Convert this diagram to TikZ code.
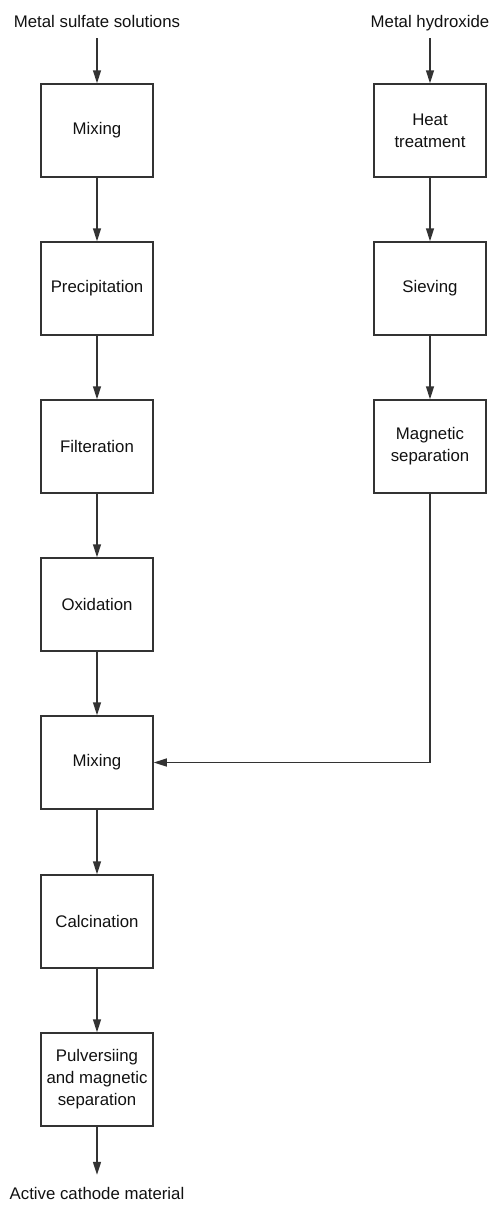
\documentclass[tikz,border=0pt]{standalone}
\usepackage{fontspec}
\setmainfont{Liberation Sans}
\usetikzlibrary{arrows.meta}
\definecolor{linegray}{HTML}{333333}
\definecolor{textgray}{HTML}{111111}
\tikzset{
  x=1pt, y=-1pt,
  stepbox/.style={draw=linegray, line width=1.5pt, minimum width=112pt,
    minimum height=93pt, inner sep=0pt, align=center, text=textgray,
    font=\fontsize{16.8}{22}\selectfont},
  lbl/.style={inner xsep=0pt, text height=12pt, text depth=4pt, text=textgray,
    font=\fontsize{16.8}{22}\selectfont},
  flow/.style={draw=linegray, line width=1.5pt,
    -{Triangle[length=13pt,width=8pt]}}
}
\begin{document}
\begin{tikzpicture}
\useasboundingbox (0,0) rectangle (491,1205);

% input labels
\node[lbl, inner ysep=7pt, anchor=base] (sulf) at (97,27) {Metal sulfate solutions};
\node[lbl, inner ysep=7pt, anchor=base] (hydr) at (430,27) {Metal hydroxide};

% left process chain
\node[stepbox] (mix1) at (97,130.5) {Mixing};
\node[stepbox] (prec) at (97,288.5) {Precipitation};
\node[stepbox] (filt) at (97,446.5) {Filteration};
\node[stepbox] (oxid) at (97,604.5) {Oxidation};
\node[stepbox] (mix2) at (97,762.5) {Mixing};
\node[stepbox] (calc) at (97,921.5) {Calcination};
\node[stepbox] (pulv) at (97,1079.5) {Pulversiing\\and magnetic\\separation};

% right process chain
\node[stepbox] (heat) at (430,130.5) {Heat\\treatment};
\node[stepbox] (siev) at (430,288.5) {Sieving};
\node[stepbox] (magn) at (430,446.5) {Magnetic\\separation};

% output label
\node[lbl, inner ysep=12pt, anchor=base] (prod) at (97,1199) {Active cathode material};

% connectors
\draw[flow] (sulf.south) -- (mix1.north);
\draw[flow] (mix1) -- (prec);
\draw[flow] (prec) -- (filt);
\draw[flow] (filt) -- (oxid);
\draw[flow] (oxid) -- (mix2);
\draw[flow] (mix2) -- (calc);
\draw[flow] (calc) -- (pulv);
\draw[flow] (pulv.south) -- (prod.north);

\draw[flow] (hydr.south) -- (heat.north);
\draw[flow] (heat) -- (siev);
\draw[flow] (siev) -- (magn);
\draw[flow] (magn.south) |- (mix2.east);
\end{tikzpicture}
\end{document}
